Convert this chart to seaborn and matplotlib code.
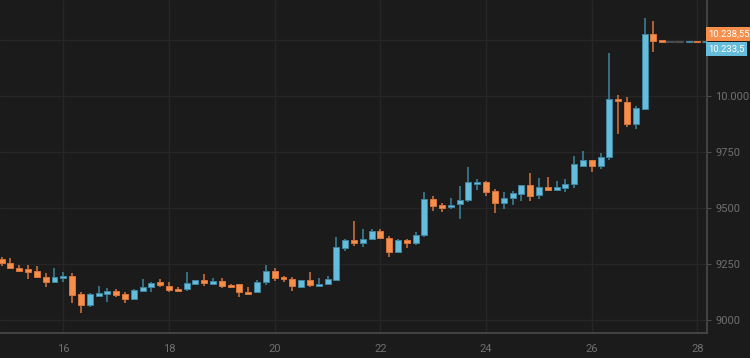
import matplotlib
matplotlib.use("Agg")
import matplotlib.pyplot as plt
import matplotlib.dates as mdates
from matplotlib.ticker import FixedLocator, FuncFormatter
import pandas as pd
import seaborn as sns

# 4-hour candles, BTC-ish, mid/late July
START = "2020-07-14 20:00"
FREQ = "4h"

OPEN = [9274, 9257, 9235, 9229, 9219, 9195, 9170, 9189, 9199, 9117,
        9069, 9110, 9119, 9133, 9118, 9096, 9133, 9148, 9170, 9155,
        9140, 9141, 9164, 9180, 9164, 9176, 9159, 9161, 9128, 9125,
        9171, 9219, 9195, 9183, 9148, 9180, 9152, 9164, 9179, 9321,
        9357, 9343, 9364, 9399, 9367, 9305, 9357, 9343, 9380, 9539,
        9512, 9504, 9517, 9536, 9606, 9617, 9575, 9521, 9544, 9564,
        9603, 9557, 9595, 9581, 9591, 9606, 9689, 9716, 9689, 9727,
        9985, 9973, 9875, 9941, 10276, 10244, 10238.55, 10238.55, 10238.0, 10239.5,
        10238.0]
HIGH = [9281, 9277, 9247, 9248, 9244, 9210, 9232, 9216, 9210, 9125,
        9121, 9154, 9146, 9139, 9127, 9139, 9185, 9170, 9183, 9170,
        9150, 9216, 9182, 9208, 9189, 9189, 9162, 9162, 9148, 9179,
        9246, 9232, 9198, 9194, 9182, 9214, 9189, 9197, 9370, 9361,
        9444, 9406, 9406, 9406, 9375, 9363, 9364, 9394, 9570, 9554,
        9524, 9546, 9598, 9683, 9631, 9621, 9585, 9573, 9577, 9603,
        9656, 9633, 9640, 9621, 9628, 9730, 9753, 9716, 9744, 10191,
        10003, 9996, 9953, 10344, 10332, 10245, 10238.55, 10238.55, 10239.5, 10239.5,
        10239.0]
LOW = [9244, 9229, 9216, 9186, 9189, 9150, 9167, 9173, 9077, 9032,
       9061, 9106, 9084, 9106, 9079, 9091, 9130, 9127, 9148, 9127,
       9127, 9133, 9158, 9155, 9161, 9146, 9143, 9106, 9113, 9122,
       9158, 9177, 9173, 9131, 9143, 9150, 9150, 9158, 9176, 9308,
       9333, 9327, 9362, 9361, 9284, 9300, 9324, 9337, 9370, 9487,
       9483, 9495, 9452, 9527, 9581, 9555, 9478, 9495, 9514, 9533,
       9533, 9540, 9577, 9577, 9573, 9591, 9683, 9662, 9672, 9715,
       9828, 9859, 9851, 9936, 10196, 10237, 10238.55, 10238.55, 10238.0, 10238.5,
       10238.0]
CLOSE = [9257, 9235, 9222, 9214, 9195, 9171, 9195, 9199, 9113, 9069,
         9117, 9121, 9133, 9112, 9097, 9136, 9148, 9168, 9157, 9137,
         9130, 9168, 9179, 9167, 9176, 9155, 9148, 9128, 9117, 9171,
         9219, 9190, 9185, 9152, 9180, 9159, 9164, 9183, 9326, 9357,
         9345, 9364, 9399, 9366, 9306, 9357, 9345, 9382, 9540, 9509,
         9500, 9515, 9536, 9615, 9617, 9572, 9521, 9544, 9567, 9603,
         9555, 9595, 9582, 9593, 9606, 9695, 9716, 9689, 9727, 9985,
         9975, 9875, 9947, 10276, 10245, 10239, 10238.55, 10238.55, 10239.0, 10238.55,
         10238.5]

LAST_PRICE = 10238.55
LAST_LABEL = "10.238,55"
ALT_PRICE = 10233.5
ALT_LABEL = "10.233,5"

Y_TICKS = [9000, 9250, 9500, 9750, 10000, 10250]
Y_LABELED = [9000, 9250, 9500, 9750, 10000]
X_TICK_DAYS = ["2020-07-16", "2020-07-18", "2020-07-20", "2020-07-22",
               "2020-07-24", "2020-07-26", "2020-07-28"]
X_RANGE = ("2020-07-14 19:15", "2020-07-28 04:20")
Y_RANGE = (8944, 10426)

BG = "#1b1b1b"
GRID = "#262626"
SPINE = "#4a4a4a"
TICK_TXT = "#6f6f6f"
UP_BODY, UP_EDGE = "#66bcdb", "#3f85a0"
DN_BODY, DN_EDGE = "#f68e4c", "#d8743a"
FLAT = "#4d4d4d"

sns.set_theme(style="dark", rc={
    "axes.facecolor": BG,
    "figure.facecolor": BG,
    "axes.edgecolor": SPINE,
    "grid.color": GRID,
    "text.color": TICK_TXT,
    "xtick.color": TICK_TXT,
    "ytick.color": TICK_TXT,
})
plt.rcParams["font.family"] = ["Roboto", "DejaVu Sans"]

df = pd.DataFrame({"open": OPEN, "high": HIGH, "low": LOW, "close": CLOSE})
df["time"] = pd.date_range(START, periods=len(df), freq=FREQ)
df["t"] = mdates.date2num(df["time"])

fig = plt.figure(figsize=(7.5, 3.58), dpi=100)
ax = fig.add_axes([0.0, 0.0698, 0.9427, 0.9302])

width = 0.113  # days
for _, r in df.iterrows():
    if r["close"] > r["open"]:
        body, edge = UP_BODY, UP_EDGE
    elif r["close"] < r["open"]:
        body, edge = DN_BODY, DN_EDGE
    else:
        body, edge = FLAT, FLAT
    lo = min(r["open"], r["close"])
    h = max(abs(r["close"] - r["open"]), 7)
    ax.vlines(r["t"], r["low"], r["high"], color=edge, linewidth=1.1, zorder=2)
    ax.bar(r["t"], h, bottom=lo, width=width, color=body,
           edgecolor=edge, linewidth=0.7, zorder=3)

# dashed last-price line out to the axis
last_t = df["t"].iloc[75]
ax.hlines(LAST_PRICE, last_t, mdates.date2num(pd.Timestamp(X_RANGE[1])),
          color=FLAT, linewidth=1.6, linestyles=(0, (3, 3)), zorder=1)

ax.set_xlim(mdates.date2num(pd.Timestamp(X_RANGE[0])),
            mdates.date2num(pd.Timestamp(X_RANGE[1])))
ax.set_ylim(*Y_RANGE)

ax.xaxis.set_major_locator(FixedLocator(mdates.date2num(pd.to_datetime(X_TICK_DAYS))))
ax.xaxis.set_major_formatter(mdates.DateFormatter("%d"))


def fmt_price(v, _pos=None):
    if round(v) not in Y_LABELED:
        return ""
    s = f"{int(round(v)):,}".replace(",", ".")
    return s if v >= 10000 else f"{int(round(v))}"


ax.yaxis.set_major_locator(FixedLocator(Y_TICKS))
ax.yaxis.set_major_formatter(FuncFormatter(fmt_price))
ax.yaxis.tick_right()

ax.grid(True, color=GRID, linewidth=1.0)
for side in ["top", "left"]:
    ax.spines[side].set_visible(False)
for side in ["right", "bottom"]:
    ax.spines[side].set_color(SPINE)
    ax.spines[side].set_linewidth(1.2)

ax.tick_params(axis="both", which="major", length=3, width=0.8, color=SPINE,
               labelsize=8, labelcolor=TICK_TXT, pad=3)
ax.tick_params(axis="x", pad=5)

# price boxes on the right axis
ax.annotate(LAST_LABEL, xy=(1.0, LAST_PRICE), xycoords=("axes fraction", "data"),
            xytext=(1.0, 6), textcoords="offset points", ha="left", va="center",
            fontsize=6.8, color="white", annotation_clip=False, zorder=10,
            bbox=dict(boxstyle="square,pad=0.25", fc=DN_BODY, ec="none"))
ax.annotate(ALT_LABEL, xy=(1.0, ALT_PRICE), xycoords=("axes fraction", "data"),
            xytext=(1.0, -4), textcoords="offset points", ha="left", va="center",
            fontsize=6.8, color="white", annotation_clip=False, zorder=10,
            bbox=dict(boxstyle="square,pad=0.25", fc=UP_BODY, ec="none"))

fig.savefig("out.png", dpi=100, facecolor=BG)
